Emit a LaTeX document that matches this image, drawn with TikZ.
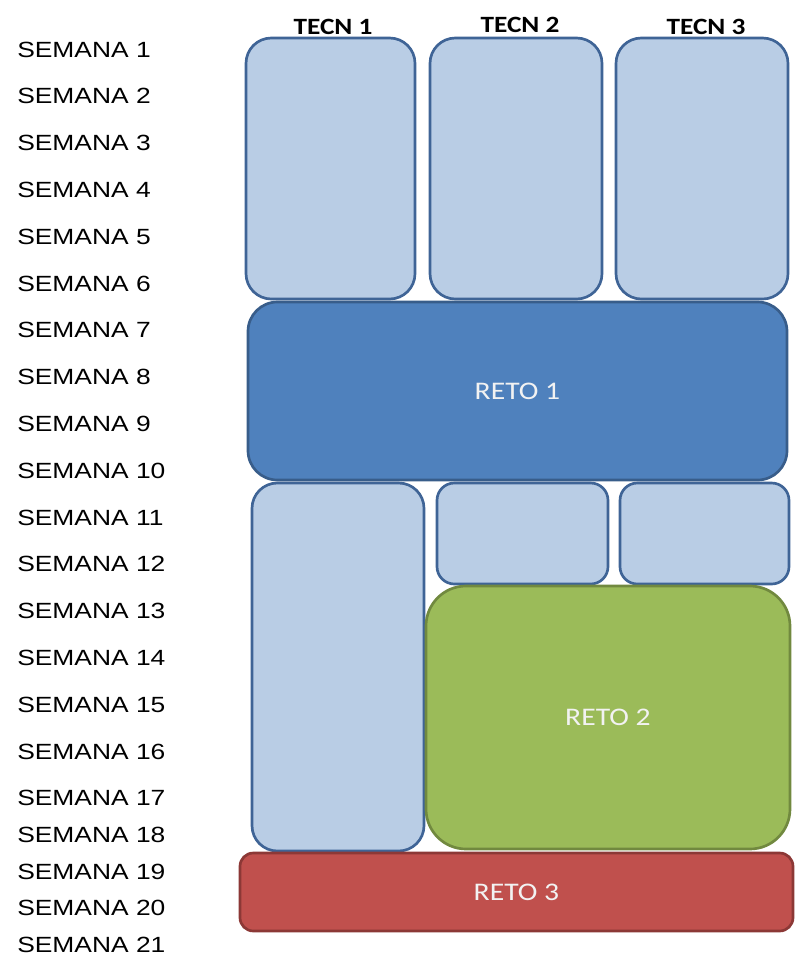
\documentclass[tikz,border=0pt]{standalone}
\usepackage{fontspec}
\newfontfamily\semfont[FakeStretch=1.2]{Liberation Sans}
\newfontfamily\calfont[FakeStretch=1.17]{Carlito}
\definecolor{tecfill}{HTML}{B9CDE5}
\definecolor{tecline}{HTML}{3F6496}
\definecolor{retoblue}{HTML}{4F81BD}
\definecolor{retoblueline}{HTML}{385D8A}
\definecolor{retogreen}{HTML}{9BBB59}
\definecolor{retogreenline}{HTML}{71893F}
\definecolor{retored}{HTML}{C0504D}
\definecolor{retoredline}{HTML}{8C3836}

\begin{document}
\begin{tikzpicture}[x=0.75pt, y=-0.75pt,
  sem/.style={anchor=west, inner sep=0pt, text=black, font=\semfont\fontsize{16.5}{18}\selectfont},
  tecn/.style={inner sep=0pt, font=\calfont\bfseries\fontsize{17.5}{20}\selectfont},
  retotxt/.style={inner sep=0pt, text=white!95!black, font=\calfont\fontsize{19}{22}\selectfont},
  tecbox/.style={draw=tecline, fill=tecfill, line width=2pt, rounded corners=#1},
  tecbox/.default=19pt,
  retobox/.style={line width=2pt, rounded corners=#1},
  retobox/.default=22pt]
\useasboundingbox (0,0) rectangle (794,957);
% Semanas
\foreach \i in {1,...,17}
  \node[sem] (s\i) at (17,{49.5+46.8*(\i-1)}) {SEMANA \i};
\foreach \i/\y in {18/835,19/872,20/908,21/945}
  \node[sem] (s\i) at (17,\y) {SEMANA \i};
% Column titles
\node[tecn] (h1) at (333,27) {TECN 1};
\node[tecn] (h2) at (520,25) {TECN 2};
\node[tecn] (h3) at (706,27) {TECN 3};
% Tecnologias, weeks 1-6
\draw[tecbox] (246,38) rectangle (415,299);
\draw[tecbox] (430,38) rectangle (602,299);
\draw[tecbox] (616,38) rectangle (788,299);
% Reto 1
\draw[retobox, draw=retoblueline, fill=retoblue] (248,302) rectangle (787,480)
  node[midway, retotxt] (r1) {RETO 1};
% Tecnologias, weeks 11-18
\draw[tecbox] (252,483) rectangle (424,851);
\draw[tecbox=13pt] (437,483) rectangle (608,584);
\draw[tecbox=13pt] (620,483) rectangle (789,584);
% Reto 2
\draw[retobox=30pt, draw=retogreenline, fill=retogreen] (426,586) rectangle (790,849)
  node[midway, retotxt] (r2) {RETO 2};
% Reto 3
\draw[retobox=10pt, draw=retoredline, fill=retored] (240,853) rectangle (793,931)
  node[midway, retotxt] (r3) {RETO 3};
\end{tikzpicture}
\end{document}
